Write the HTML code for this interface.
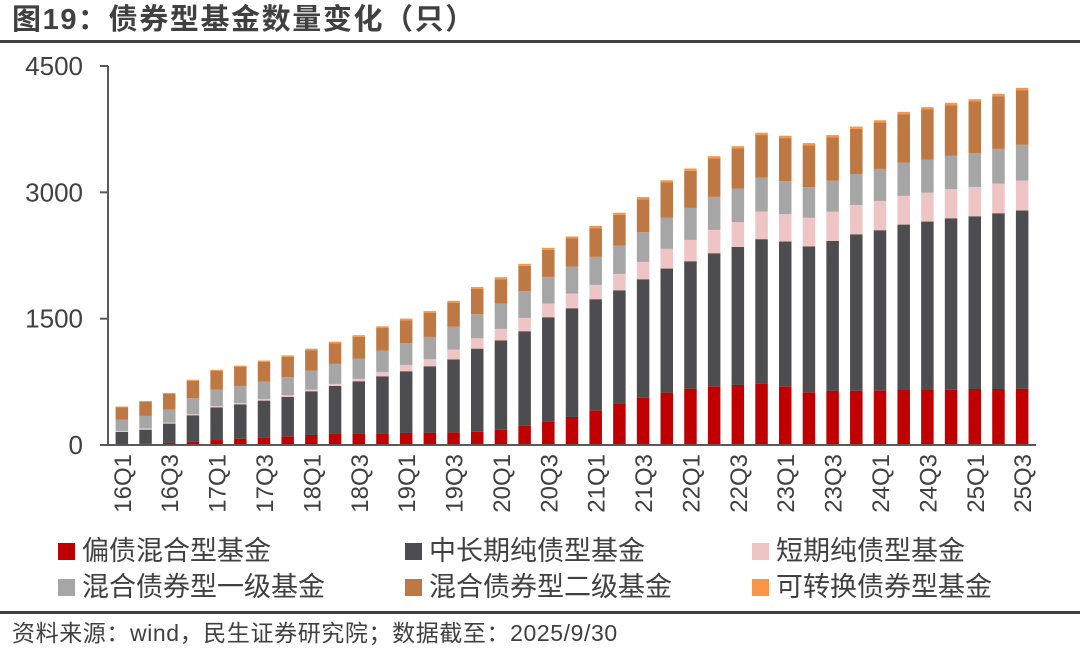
<!DOCTYPE html>
<html><head><meta charset="utf-8">
<style>
body{margin:0;background:#fff;}
#wrap{position:relative;width:1080px;height:650px;overflow:hidden;font-family:"Liberation Sans","Noto Sans CJK SC",sans-serif;color:#404040;}
.title{position:absolute;left:12px;top:2px;font-size:29px;line-height:36px;font-weight:bold;color:#404040;letter-spacing:1.6px;}
.rule{position:absolute;left:0;width:1080px;background:#404040;}
.leg{position:absolute;font-size:27px;line-height:32px;color:#404040;white-space:nowrap;}
.leg i{display:inline-block;width:17px;height:17px;margin-right:7px;vertical-align:0px;}
.foot{position:absolute;left:12px;top:619px;font-size:23px;line-height:28px;color:#404040;letter-spacing:0.6px;}
</style></head><body>
<div id="wrap">
<div class="title">图19：债券型基金数量变化（只）</div>
<div class="rule" style="top:40px;height:3px"></div>
<svg id="chart" width="1080" height="540" style="position:absolute;left:0;top:0"></svg>
<div class="leg" style="left:58px;top:535px"><i style="background:#C00000"></i>偏债混合型基金</div>
<div class="leg" style="left:405px;top:535px"><i style="background:#4D4D4F"></i>中长期纯债型基金</div>
<div class="leg" style="left:752px;top:535px"><i style="background:#EEC4C4"></i>短期纯债型基金</div>
<div class="leg" style="left:58px;top:571px"><i style="background:#A6A6A6"></i>混合债券型一级基金</div>
<div class="leg" style="left:405px;top:571px"><i style="background:#BE7844"></i>混合债券型二级基金</div>
<div class="leg" style="left:752px;top:571px"><i style="background:#F79646"></i>可转换债券型基金</div>
<div class="rule" style="top:611px;height:3px"></div>
<div class="foot">资料来源：wind，民生证券研究院；数据截至：2025/9/30</div>
</div>
<script>
const categories = [];
for (let y = 16; y <= 25; y++) for (let q = 1; q <= 4; q++) { if (y === 25 && q > 3) break; categories.push(y + 'Q' + q); }
const bondMixed = [8,20,28,44,59,75,91,103,119,131,131,131,143,147,150,158,182,230,281,333,412,487,562,622,669,697,713,725,697,626,642,645,649,653,653,657,665,665,669];
const midLongPure = [147,162,226,309,388,408,436,467,519,570,626,685,733,788,867,986,1061,1121,1236,1291,1319,1350,1406,1473,1513,1580,1639,1719,1719,1731,1782,1857,1901,1964,2000,2035,2051,2087,2115];
const shortPure = [12,16,12,12,16,16,20,20,20,24,28,51,75,83,115,123,135,158,162,174,170,194,206,234,253,277,293,329,325,341,345,348,348,341,345,345,348,352,356];
const mixedPrimary = [135,147,154,190,194,202,206,214,226,238,242,253,257,265,273,285,301,317,317,321,333,337,352,368,380,392,400,400,392,364,368,368,380,396,392,396,400,412,424];
const mixedSecondary = [143,166,186,206,222,226,234,242,242,246,257,269,273,285,285,301,289,301,321,333,341,364,392,420,440,455,475,507,511,495,515,535,550,574,594,602,614,626,649];
const convertible = [12,12,12,14,14,16,16,18,18,18,20,20,20,22,22,22,24,24,24,24,26,26,26,26,28,28,28,28,28,28,28,28,28,28,28,28,28,28,28];
const yTicks = [0,1500,3000,4500];

const series = [
  {name:'bond-mixed', data:bondMixed, color:'#C00000'},
  {name:'mid-long-pure-bond', data:midLongPure, color:'#4D4D4F'},
  {name:'short-pure-bond', data:shortPure, color:'#EEC4C4'},
  {name:'mixed-bond-primary', data:mixedPrimary, color:'#A6A6A6'},
  {name:'mixed-bond-secondary', data:mixedSecondary, color:'#BE7844'},
  {name:'convertible-bond', data:convertible, color:'#F79646'}
];
const NS = 'http://www.w3.org/2000/svg';
const svg = document.getElementById('chart');
const plotL = 110, plotR = 1034, y0 = 445, yTop = 66, yMax = 4500;
const band = (plotR - plotL) / categories.length;
const barW = 12.5;
const yScale = v => y0 - (v / yMax) * (y0 - yTop);
const xCenter = i => plotL + band * (i + 0.5);
function mk(tag, attrs) { const e = document.createElementNS(NS, tag); for (const k in attrs) e.setAttribute(k, attrs[k]); svg.appendChild(e); return e; }

categories.forEach((c, i) => {
  let acc = 0;
  series.forEach(s => {
    const v = s.data[i];
    const yA = yScale(acc), yB = yScale(acc + v);
    const r = mk('rect', {x: xCenter(i) - barW / 2, y: yB, width: barW, height: Math.max(0, yA - yB), fill: s.color});
    
    
    acc += v;
  });
});

const ya = mk('line', {x1: 108, y1: yTop, x2: 108, y2: y0, stroke: '#595959', 'stroke-width': 2});


const xa = mk('line', {x1: 100, y1: y0, x2: plotR + 2, y2: y0, stroke: '#595959', 'stroke-width': 2});


yTicks.forEach(t => {
  const y = yScale(t);
  const tk = mk('line', {x1: 100, y1: y, x2: 108, y2: y, stroke: '#595959', 'stroke-width': 2});
  
  
  const tx = mk('text', {x: 83, y: y + 9, 'text-anchor': 'end', 'font-size': 26, fill: '#404040', 'font-family': 'Liberation Sans, sans-serif'});
  tx.textContent = t;
  
  
});
categories.forEach((c, i) => {
  if (i % 2 !== 0) return;
  const x = xCenter(i) + 9, y = 454;
  const tx = mk('text', {x: x, y: y, 'text-anchor': 'end', 'font-size': 24, fill: '#404040', 'font-family': 'Liberation Sans, sans-serif', transform: 'rotate(-90 ' + x + ' ' + y + ')'});
  tx.textContent = c;
  
  
});
</script>
</body></html>
